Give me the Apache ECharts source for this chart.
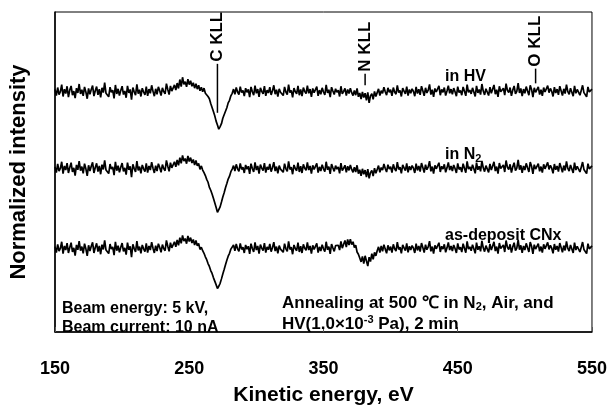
<!DOCTYPE html>
<html>
<head>
<meta charset="utf-8">
<script src="https://cdn.jsdelivr.net/npm/echarts@6/dist/echarts.min.js"></script>
<style>
html,body{margin:0;padding:0;background:#fff}
#map-wrap{width:610px;height:411px}
</style>
</head>
<body>
<div id="map-wrap"></div>
<script>
// energy grid: 150 eV .. 550 eV, one reading per eV
var eStart = 150, eStep = 1;

// traces (offset units, 0 = bottom of frame, 100 = top)
var inHV = [
    75.8, 73.9, 76.4, 74.2, 75.1, 77.3, 73.6, 75.9, 74.5, 76.8,
    73.4, 75.6, 76.9, 74.0, 75.3, 73.1, 76.2, 74.7, 77.5, 74.4,
    75.7, 73.8, 76.6, 75.0, 72.9, 76.1, 74.3, 75.8, 77.0, 73.7,
    75.4, 76.7, 74.1, 75.9, 73.3, 76.3, 74.8, 77.9, 74.6, 75.2,
    73.5, 76.5, 74.9, 75.6, 73.0, 77.2, 74.4, 76.0, 73.9, 75.5,
    76.8, 74.2, 75.3, 73.2, 76.9, 74.7, 75.8, 72.6, 76.4, 75.1,
    74.0, 77.4, 74.5, 75.7, 73.6, 76.2, 75.0, 74.1, 76.7, 73.8,
    75.9, 74.6, 77.1, 75.2, 73.7, 76.0, 74.3, 76.6, 75.4, 73.9,
    76.3, 75.1, 74.4, 77.6, 75.8, 74.2, 76.9, 75.3, 74.8, 77.2,
    75.6, 77.8, 76.1, 78.9, 76.7, 79.6, 77.4, 78.2, 76.6, 79.0,
    77.3, 78.5, 76.8, 77.9, 76.2, 77.6, 75.9, 77.1, 75.4, 76.5,
    75.1, 76.2, 74.6, 74.9, 73.6, 72.9, 71.4, 70.8, 68.9, 67.6,
    65.9, 64.7, 63.4, 64.2, 65.1, 66.8, 67.4, 69.0, 70.1, 71.6,
    72.4, 73.8, 74.6, 75.9, 74.3, 76.4, 75.0, 74.2, 76.7, 74.8,
    75.5, 73.7, 76.2, 74.9, 75.8, 73.4, 76.6, 75.1, 74.0, 77.0,
    74.6, 75.9, 73.5, 76.3, 75.2, 74.4, 76.8, 73.8, 75.6, 74.7,
    76.5, 74.1, 75.4, 77.1, 74.3, 75.7, 73.6, 76.0, 74.9, 75.3,
    73.9, 76.6, 75.0, 74.2, 77.3, 74.8, 75.5, 73.3, 76.2, 75.1,
    74.4, 76.9, 74.0, 75.8, 73.7, 76.4, 75.2, 74.5, 77.0, 74.6,
    75.9, 73.5, 76.1, 74.8, 75.4, 76.7, 73.8, 75.6, 74.3, 76.3,
    75.0, 74.1, 77.2, 74.7, 75.7, 73.4, 76.5, 75.3, 74.2, 76.0,
    74.9, 75.6, 73.6, 76.8, 74.4, 75.2, 76.1, 73.9, 75.8, 74.5,
    76.2, 74.8, 73.9, 75.5, 74.0, 76.1, 73.5, 74.7, 72.8, 75.0,
    73.3, 74.6, 72.4, 74.9, 71.6, 73.8, 74.5, 72.7, 75.2, 73.6,
    74.8, 76.0, 73.9, 75.4, 74.6, 76.5, 75.1, 74.0, 76.3, 74.9,
    75.7, 73.8, 76.4, 75.0, 74.3, 77.1, 74.8, 75.5, 73.6, 76.2,
    75.3, 74.4, 76.7, 73.9, 75.8, 74.6, 76.0, 75.2, 73.7, 76.6,
    74.5, 75.9, 74.1, 76.8, 75.4, 73.8, 76.3, 74.7, 75.6, 77.4,
    74.2, 75.7, 73.5, 76.1, 75.0, 74.5, 76.9, 74.0, 75.8, 74.9,
    76.4, 73.9, 75.3, 77.0, 74.6, 75.9, 74.3, 76.2, 75.1, 73.7,
    76.7, 74.8, 75.5, 74.0, 76.6, 75.2, 73.8, 77.3, 74.9, 75.6,
    74.4, 76.3, 75.0, 73.6, 76.9, 74.7, 75.8, 74.2, 77.5, 75.3,
    74.1, 76.0, 75.4, 73.9, 76.5, 74.6, 75.9, 77.2, 74.3, 75.7,
    73.5, 76.8, 75.1, 74.5, 76.2, 74.0, 77.6, 75.5, 74.8, 76.4,
    73.8, 75.6, 76.9, 74.4, 75.2, 77.8, 74.7, 76.1, 73.7, 75.9,
    74.6, 76.7, 75.3, 74.0, 77.1, 75.8, 73.4, 76.3, 74.9, 75.5,
    76.6, 74.2, 75.7, 73.8, 76.4, 75.0, 74.5, 77.0, 74.8, 76.1,
    75.2, 73.6, 76.5, 74.7, 75.9, 74.1, 76.8, 75.4, 73.9, 76.0,
    74.5, 77.3, 75.1, 74.3, 76.2, 75.6, 73.7, 76.9, 74.6, 75.8,
    76.4, 74.0, 75.5, 77.1, 74.8, 75.3, 73.5, 76.6, 75.0, 74.4,
    75.9
];
var inN2 = [
    51.6, 49.8, 52.5, 50.3, 51.1, 53.2, 49.5, 51.9, 50.6, 52.8,
    49.7, 51.4, 52.9, 50.0, 51.3, 48.9, 52.2, 50.7, 53.4, 50.4,
    51.7, 49.6, 52.6, 51.0, 48.8, 52.1, 50.3, 51.8, 53.0, 49.7,
    51.4, 52.7, 50.1, 51.9, 49.3, 52.3, 50.8, 53.6, 50.6, 51.2,
    49.5, 52.5, 50.9, 51.6, 49.0, 53.2, 50.4, 52.0, 49.9, 51.5,
    52.8, 50.2, 51.3, 49.2, 52.9, 50.7, 51.8, 48.4, 52.4, 51.1,
    50.0, 53.4, 50.5, 51.7, 49.6, 52.2, 51.0, 50.1, 52.7, 49.8,
    51.9, 50.6, 53.1, 51.2, 49.7, 52.0, 50.3, 52.6, 51.4, 49.9,
    52.3, 51.1, 50.4, 53.6, 51.8, 50.2, 52.9, 51.3, 50.8, 53.2,
    51.6, 53.8, 52.1, 54.5, 52.7, 55.2, 53.4, 54.2, 52.6, 55.0,
    53.3, 54.5, 52.8, 53.9, 52.2, 53.6, 51.9, 52.7, 50.8, 51.9,
    50.6, 49.8, 48.9, 47.7, 46.8, 45.2, 44.3, 43.1, 41.8, 40.4,
    39.0, 37.4, 37.9, 39.1, 40.6, 42.2, 43.5, 45.1, 46.4, 47.8,
    48.7, 50.1, 50.9, 52.0, 50.3, 52.4, 51.0, 50.2, 52.7, 50.8,
    51.5, 49.7, 52.2, 50.9, 51.8, 49.4, 52.6, 51.1, 50.0, 53.0,
    50.6, 51.9, 49.5, 52.3, 51.2, 50.4, 52.8, 49.8, 51.6, 50.7,
    52.5, 50.1, 51.4, 53.1, 50.3, 51.7, 49.6, 52.0, 50.9, 51.3,
    49.9, 52.6, 51.0, 50.2, 53.3, 50.8, 51.5, 49.3, 52.2, 51.1,
    50.4, 52.9, 50.0, 51.8, 49.7, 52.4, 51.2, 50.5, 53.0, 50.6,
    51.9, 49.5, 52.1, 50.8, 51.4, 52.7, 49.8, 51.6, 50.3, 52.3,
    51.0, 50.1, 53.2, 50.7, 51.7, 49.4, 52.5, 51.3, 50.2, 52.0,
    50.9, 51.6, 49.6, 52.8, 50.4, 51.2, 52.1, 49.9, 51.8, 50.5,
    52.2, 50.8, 49.9, 51.5, 50.0, 52.1, 49.5, 50.7, 48.8, 51.0,
    49.3, 50.6, 48.4, 50.9, 48.0, 49.8, 50.5, 48.7, 51.2, 49.6,
    50.8, 52.0, 49.9, 51.4, 50.6, 52.5, 51.1, 50.0, 52.3, 50.9,
    51.7, 49.8, 52.4, 51.0, 50.3, 53.1, 50.8, 51.5, 49.6, 52.2,
    51.3, 50.4, 52.7, 49.9, 51.8, 50.6, 52.0, 51.2, 49.7, 52.6,
    50.5, 51.9, 50.1, 52.8, 51.4, 49.8, 52.3, 50.7, 51.6, 53.4,
    50.2, 51.7, 49.5, 52.1, 51.0, 50.5, 52.9, 50.0, 51.8, 50.9,
    52.4, 49.9, 51.3, 53.0, 50.6, 51.9, 50.3, 52.2, 51.1, 49.7,
    52.7, 50.8, 51.5, 50.0, 52.6, 51.2, 49.8, 53.3, 50.9, 51.6,
    50.4, 52.3, 51.0, 49.6, 52.9, 50.7, 51.8, 50.2, 53.5, 51.3,
    50.1, 52.0, 51.4, 49.9, 52.5, 50.6, 51.9, 53.2, 50.3, 51.7,
    49.5, 52.8, 51.1, 50.5, 52.2, 50.0, 53.6, 51.5, 50.8, 52.4,
    49.8, 51.6, 52.9, 50.4, 51.2, 53.8, 50.7, 52.1, 49.7, 51.9,
    50.6, 52.7, 51.3, 50.0, 53.1, 51.8, 49.4, 52.3, 50.9, 51.5,
    52.6, 50.2, 51.7, 49.8, 52.4, 51.0, 50.5, 53.0, 50.8, 52.1,
    51.2, 49.6, 52.5, 50.7, 51.9, 50.1, 52.8, 51.4, 49.9, 52.0,
    50.5, 53.3, 51.1, 50.3, 52.2, 51.6, 49.7, 52.9, 50.6, 51.8,
    52.4, 50.0, 51.5, 53.1, 50.8, 51.3, 49.5, 52.6, 51.0, 50.4,
    51.9
];
var asDep = [
    26.7, 24.8, 27.4, 25.3, 26.1, 28.2, 24.5, 26.9, 25.6, 27.8,
    24.7, 26.4, 27.9, 25.0, 26.3, 23.9, 27.2, 25.7, 28.4, 25.4,
    26.7, 24.6, 27.6, 26.0, 23.8, 27.1, 25.3, 26.8, 28.0, 24.7,
    26.4, 27.7, 25.1, 26.9, 24.3, 27.3, 25.8, 28.6, 25.6, 26.2,
    24.5, 27.5, 25.9, 26.6, 24.0, 28.2, 25.4, 27.0, 24.9, 26.5,
    27.8, 25.2, 26.3, 24.2, 27.9, 25.7, 26.8, 23.4, 27.4, 26.1,
    25.0, 28.4, 25.5, 26.7, 24.6, 27.2, 26.0, 25.1, 27.7, 24.8,
    26.9, 25.6, 28.1, 26.2, 24.7, 27.0, 25.3, 27.6, 26.4, 24.9,
    27.3, 26.1, 25.4, 28.6, 26.8, 25.2, 27.9, 26.3, 25.8, 28.2,
    26.6, 28.8, 27.1, 29.5, 27.7, 30.2, 28.4, 29.2, 27.6, 30.0,
    28.3, 29.5, 27.8, 28.9, 27.2, 28.6, 26.9, 27.7, 25.8, 26.5,
    25.4, 24.6, 23.5, 22.6, 21.4, 20.5, 19.2, 18.3, 17.0, 15.9,
    14.8, 13.6, 14.3, 15.2, 16.6, 18.1, 19.5, 21.0, 22.4, 23.7,
    24.6, 25.9, 26.3, 27.2, 25.4, 27.5, 26.0, 25.2, 27.7, 25.8,
    26.5, 24.7, 27.2, 25.9, 26.8, 24.4, 27.6, 26.1, 25.0, 28.0,
    25.6, 26.9, 24.5, 27.3, 26.2, 25.4, 27.8, 24.8, 26.6, 25.7,
    27.5, 25.1, 26.4, 28.1, 25.3, 26.7, 24.6, 27.0, 25.9, 26.3,
    24.9, 27.6, 26.0, 25.2, 28.3, 25.8, 26.5, 24.3, 27.2, 26.1,
    25.4, 27.9, 25.0, 26.8, 24.7, 27.4, 26.2, 25.5, 28.0, 25.6,
    26.9, 24.5, 27.1, 25.8, 26.4, 27.7, 24.8, 26.6, 25.3, 27.3,
    26.0, 25.1, 28.2, 25.7, 26.7, 24.4, 27.5, 26.3, 25.2, 27.0,
    26.4, 27.1, 25.6, 28.3, 26.2, 27.4, 28.6, 26.5, 28.9, 27.2,
    29.0, 27.3, 28.2, 26.4, 27.1, 25.0, 24.3, 23.1, 21.9, 23.6,
    21.4, 23.8, 22.2, 20.6, 23.4, 22.0, 24.5, 22.7, 24.9, 23.8,
    25.4, 26.6, 24.8, 26.9, 25.2, 27.3, 25.9, 24.6, 27.1, 25.5,
    26.7, 24.8, 27.4, 26.0, 25.3, 28.1, 25.8, 26.5, 24.6, 27.2,
    26.3, 25.4, 27.7, 24.9, 26.8, 25.6, 27.0, 26.2, 24.7, 27.6,
    25.5, 26.9, 25.1, 27.8, 26.4, 24.8, 27.3, 25.7, 26.6, 28.4,
    25.2, 26.7, 24.5, 27.1, 26.0, 25.5, 27.9, 25.0, 26.8, 25.9,
    27.4, 24.9, 26.3, 28.0, 25.6, 26.9, 25.3, 27.2, 26.1, 24.7,
    27.7, 25.8, 26.5, 25.0, 27.6, 26.2, 24.8, 28.3, 25.9, 26.6,
    25.4, 27.3, 26.0, 24.6, 27.9, 25.7, 26.8, 25.2, 28.5, 26.3,
    25.1, 27.0, 26.4, 24.9, 27.5, 25.6, 26.9, 28.2, 25.3, 26.7,
    24.5, 27.8, 26.1, 25.5, 27.2, 25.0, 28.6, 26.5, 25.8, 27.4,
    24.8, 26.6, 27.9, 25.4, 26.2, 28.8, 25.7, 27.1, 24.7, 26.9,
    25.6, 27.7, 26.3, 25.0, 28.1, 26.8, 24.4, 27.3, 25.9, 26.5,
    27.6, 25.2, 26.7, 24.8, 27.4, 26.0, 25.5, 28.0, 25.8, 27.1,
    26.2, 24.6, 27.5, 25.7, 26.9, 25.1, 27.8, 26.4, 24.9, 27.0,
    25.5, 28.3, 26.1, 25.3, 27.2, 26.6, 24.7, 27.9, 25.6, 26.8,
    27.4, 25.0, 26.5, 28.1, 25.8, 26.3, 24.5, 27.6, 26.0, 25.4,
    26.9
];

var xTicks = [150, 250, 350, 450, 550];
var peakNames = ['C KLL', 'N KLL', 'O KLL'];
var peakEnergy = [271, 381, 508];

var font = 'Arial, "Liberation Sans", sans-serif';

function toPairs(arr) {
    var d = [];
    for (var i = 0; i < arr.length; i++) {
        d.push([eStart + eStep * i, arr[i]]);
    }
    return d;
}

function trace(name, arr) {
    return {
        name: name,
        type: 'line',
        data: toPairs(arr),
        showSymbol: false,
        symbol: 'none',
        animation: false,
        lineStyle: {color: '#000', width: 1.7}
    };
}

var mychart = echarts.init(document.getElementById('map-wrap'));
var option = {
    backgroundColor: '#fff',
    animation: false,
    grid: {
        left: 54, right: 17, top: 12, bottom: 72,
        show: true, borderColor: '#000', borderWidth: 1
    },
    xAxis: {
        type: 'value',
        min: xTicks[0],
        max: xTicks[xTicks.length - 1],
        interval: xTicks[1] - xTicks[0],
        name: 'Kinetic energy, eV',
        nameLocation: 'middle',
        nameGap: 53,
        nameTextStyle: {fontFamily: font, fontWeight: 'bold', fontSize: 21, color: '#000'},
        axisLine: {lineStyle: {color: '#000', width: 1.5}},
        axisTick: {inside: true, length: 5, lineStyle: {color: '#555', width: 1}},
        axisLabel: {margin: 28, fontFamily: font, fontWeight: 'bold', fontSize: 18, color: '#000'},
        splitLine: {show: false}
    },
    yAxis: {
        type: 'value',
        min: 0,
        max: 100,
        name: 'Normalized intensity',
        nameLocation: 'middle',
        nameGap: 25,
        nameTextStyle: {fontFamily: font, fontWeight: 'bold', fontSize: 22, color: '#000'},
        axisLine: {show: true, lineStyle: {color: '#000', width: 1.5}},
        axisTick: {show: false},
        axisLabel: {show: false},
        splitLine: {show: false}
    },
    series: [
        trace('in HV', inHV),
        trace('in N2', inN2),
        trace('as-deposit CNx', asDep)
    ]
};
mychart.setOption(option);

// peak markers: vertical tick + rotated label, placed from the data scale
var markTop = [83.8, 80.7, 82.3];
var markBottom = [68.5, 77.1, 77.7];
var gfx = [];
for (var k = 0; k < peakNames.length; k++) {
    var pTop = mychart.convertToPixel({gridIndex: 0}, [peakEnergy[k], markTop[k]]);
    var pBot = mychart.convertToPixel({gridIndex: 0}, [peakEnergy[k], markBottom[k]]);
    gfx.push({
        type: 'line',
        shape: {x1: pTop[0], y1: pTop[1], x2: pBot[0], y2: pBot[1]},
        style: {stroke: '#000', lineWidth: 1.5},
        z: 10
    });
    gfx.push({
        type: 'text',
        x: pTop[0],
        y: pTop[1] - 2,
        rotation: Math.PI / 2,
        style: {
            text: peakNames[k],
            font: 'bold 17px ' + font,
            fill: '#000',
            align: 'left',
            verticalAlign: 'middle'
        },
        z: 10
    });
}

function label(x, y, text, size, rich) {
    return {
        type: 'text',
        x: x, y: y,
        style: {
            text: text,
            font: 'bold ' + size + 'px ' + font,
            fill: '#000',
            align: 'left',
            verticalAlign: 'middle',
            rich: rich || {}
        },
        z: 10
    };
}
function subsup(size) {
    return {
        sub: {fontSize: 11, fontWeight: 'bold', fontFamily: font, padding: [7, 0, 0, 0]},
        sup: {fontSize: 11, fontWeight: 'bold', fontFamily: font, padding: [0, 0, 8, 0]},
        n: {fontSize: size, fontWeight: 'bold', fontFamily: font}
    };
}
gfx.push(label(445, 77, 'in HV', 16));
gfx.push(label(445, 155, '{n|in N}{sub|2}', 16, subsup(16)));
gfx.push(label(445, 236, 'as-deposit CNx', 16));
gfx.push(label(62, 309, 'Beam energy: 5 kV,', 16));
gfx.push(label(62, 328, 'Beam current: 10 nA', 16));
gfx.push(label(282, 303, '{n|Annealing at 500 \u2103 in N}{sub|2}{n|, Air, and}', 17, subsup(17)));
gfx.push(label(282, 324, '{n|HV(1.0\u00d710}{sup|-3}{n| Pa), 2 min}', 17, subsup(17)));

mychart.setOption({graphic: {elements: gfx}});
</script>
</body>
</html>
